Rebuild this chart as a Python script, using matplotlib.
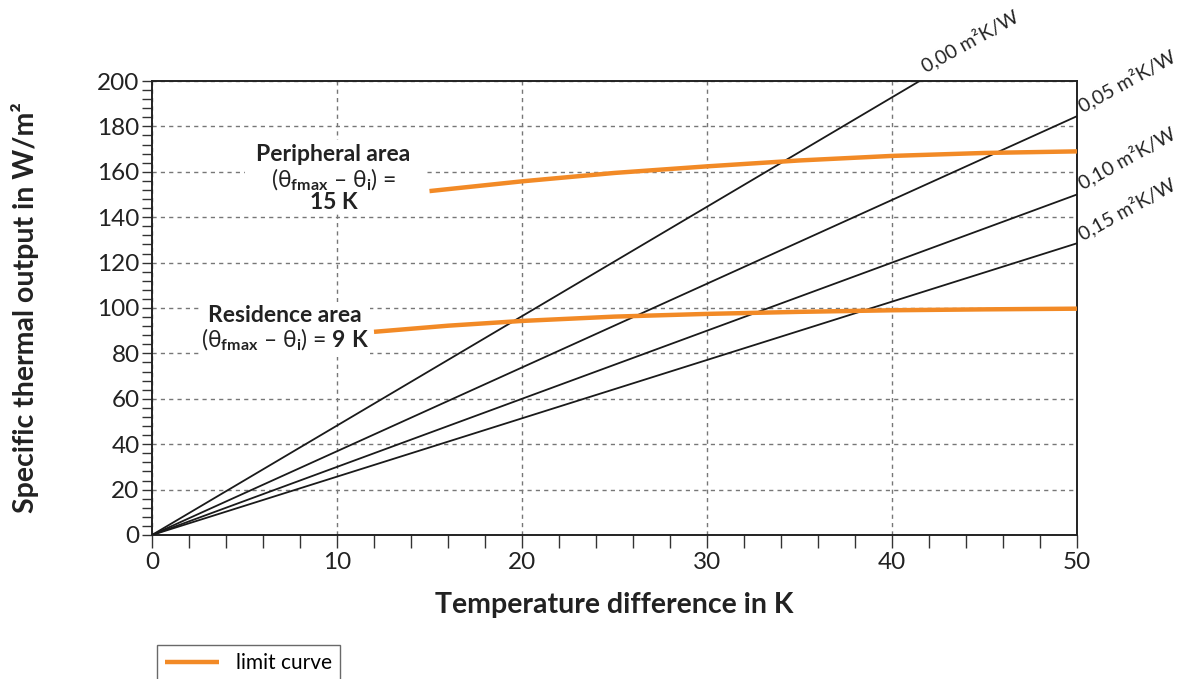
import numpy as np
import matplotlib.pyplot as plt
from matplotlib.patches import Rectangle
from matplotlib.ticker import MultipleLocator

plt.rcParams['font.family'] = ['Lato', 'DejaVu Sans']
plt.rcParams['mathtext.fontset'] = 'custom'
plt.rcParams['mathtext.rm'] = 'Lato'
plt.rcParams['mathtext.it'] = 'Lato'
plt.rcParams['mathtext.bf'] = 'Lato:bold'

# thermal resistance of floor covering -> slope of output vs temperature difference
resistances = ["0,00", "0,05", "0,10", "0,15"]
slopes = [4.82, 3.69, 3.00, 2.57]

# limit curves
periph_x = [15, 20, 25, 30, 35, 40, 45, 50]
periph_y = [151.5, 155.8, 159.5, 162.4, 165.0, 167.0, 168.3, 169.0]
resid_x = [12, 16, 20, 25, 30, 35, 40, 45, 50]
resid_y = [89.5, 92.2, 94.3, 96.2, 97.4, 98.3, 99.0, 99.4, 99.7]

fig = plt.figure(figsize=(11.84, 6.79), dpi=100)
ax = fig.add_axes([0.1284, 0.2121, 0.7812, 0.6686])

dt = np.linspace(0, 50, 200)
for s in slopes:
    q = s * dt
    m = q <= 200
    ax.plot(dt[m], q[m], color="#1a1a1a", lw=1.3, zorder=3)

orange = "#f28a26"
ax.plot(periph_x, periph_y, color=orange, lw=3.2, zorder=4, solid_capstyle='butt')
line, = ax.plot(resid_x, resid_y, color=orange, lw=3.2, zorder=4, solid_capstyle='butt',
                label="limit curve")

ax.set_xlim(0, 50)
ax.set_ylim(0, 200)
ax.xaxis.set_major_locator(MultipleLocator(10))
ax.xaxis.set_minor_locator(MultipleLocator(2))
ax.yaxis.set_major_locator(MultipleLocator(20))
ax.yaxis.set_minor_locator(MultipleLocator(4))
ax.grid(True, which='major', color="#777777", lw=1, ls=(0, (3, 3)))
ax.tick_params(axis='both', which='both', direction='out', color="#333333", width=1,
               labelsize=17.5, labelcolor="#222222")
ax.tick_params(axis='x', which='both', length=9, pad=3)
ax.tick_params(axis='y', which='both', length=7, pad=2)
for sp in ax.spines.values():
    sp.set_linewidth(1.4)
    sp.set_color("#222222")

ax.set_xlabel("Temperature difference in K", fontsize=20.5, fontweight='bold',
              color="#222222", labelpad=14)
ax.set_ylabel("Specific thermal output in W/m²", fontsize=20.5, fontweight='bold',
              color="#222222", labelpad=42)

# resistance labels at the line ends
label_pos = [(41.9, 202.5), (50.4, 185.0), (50.4, 151.0), (50.4, 128.5)]
for r, (x, y) in zip(resistances, label_pos):
    ax.text(x, y, f"{r} m²K/W", fontsize=14, rotation=29, rotation_mode='anchor',
            ha='left', va='bottom', color="#222222", clip_on=False)

# white panels behind the area captions so the grid stays out of them
ax.add_patch(Rectangle((5.0, 142.5), 9.7, 31.5, facecolor='white', edgecolor='none', zorder=2.5))
ax.add_patch(Rectangle((2.6, 78.5), 9.2, 24.0, facecolor='white', edgecolor='none', zorder=2.5))

theta = r"$(\mathrm{θ}_{\mathbf{fmax}}$ – $\mathrm{θ}_{\mathbf{i}})$ ="
kw = dict(fontsize=16.5, ha='center', va='center', color="#222222", zorder=5)
ax.text(9.8, 167.5, "Peripheral area", fontweight='bold', **kw)
ax.text(9.8, 156.5, theta, **kw)
ax.text(9.8, 146.5, "15 K", fontweight='bold', **kw)
ax.text(7.2, 96.8, "Residence area", fontweight='bold', **kw)
ax.text(7.2, 86.0, theta + r" $\mathbf{9\ K}$", **kw)

leg = fig.legend(handles=[line], loc='upper left', bbox_to_anchor=(0.1326, 0.050),
                 borderaxespad=0, frameon=True, fancybox=False, fontsize=15,
                 handlelength=2.6, borderpad=0.4, edgecolor="#444444")
leg.get_frame().set_linewidth(1)

fig.savefig("out.png", dpi=100)
